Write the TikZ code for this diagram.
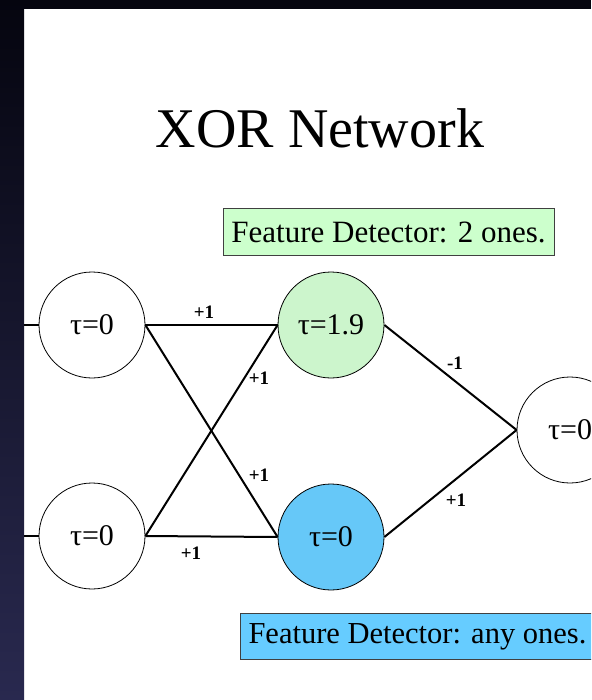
\documentclass[tikz,border=0pt]{standalone}
\usepackage{fontspec}
\setmainfont{Liberation Serif}
\definecolor{navytop}{HTML}{05050F}
\definecolor{navybot}{HTML}{29294F}
\definecolor{greenfill}{HTML}{CCF5CC}
\definecolor{greenbox}{HTML}{CCFFCC}
\definecolor{bluefill}{HTML}{66C8F8}
\definecolor{bluebox}{HTML}{66CCFF}
\tikzset{
  neuron/.style={circle, draw=black, line width=0.8pt, minimum size=106pt, inner sep=0pt, font=\fontsize{30}{30}\selectfont},
  wire/.style={line width=2pt, black},
  weight/.style={font=\fontsize{19}{19}\selectfont\bfseries, inner sep=0pt},
  fbox/.style={draw=black!75, line width=1pt, minimum height=46pt, inner xsep=8pt, font=\fontsize{31}{31}\selectfont}
}
\begin{document}
\begin{tikzpicture}[x=1pt,y=-1pt]
\useasboundingbox (0,0) rectangle (591,700);
\clip (0,0) rectangle (591,700);
\fill[white] (0,0) rectangle (591,700);
\fill[navytop] (0,0) rectangle (591,9);
\shade[top color=navytop, bottom color=navybot] (0,0) rectangle (24,700);

\node[font=\fontsize{56}{56}\selectfont, inner sep=0pt] (title) at (320,128) {XOR Network};

\node[neuron] (in1) at (92,325) {τ=0};
\node[neuron] (in2) at (92,536) {τ=0};
\node[neuron, fill=greenfill] (h1) at (331,325) {τ=1.9};
\node[neuron, fill=bluefill] (h2) at (331,537) {τ=0};
\node[neuron] (out) at (570,430) {τ=0};

\coordinate (s1) at (24,325);
\coordinate (s2) at (24,536);
\draw[wire, line width=1.5pt] (s1) -- (in1.west);
\draw[wire, line width=1.5pt] (s2) -- (in2.west);

\draw[wire] (in1.east) -- (h1.west);
\draw[wire] (in1.east) -- (h2.west);
\draw[wire] (in2.east) -- (h1.west);
\draw[wire] (in2.east) -- (h2.west);
\draw[wire] (h1.east) -- (out.west);
\draw[wire] (h2.east) -- (out.west);

\node[weight] (w1) at (204,312) {+1};
\node[weight] (w2) at (259,378) {+1};
\node[weight] (w3) at (259,475) {+1};
\node[weight] (w4) at (191,553) {+1};
\node[weight] (w5) at (455,363) {-1};
\node[weight] (w6) at (456,500) {+1};

\node[fbox, fill=greenbox, minimum width=331pt] (fd1) at (388.5,232) {Feature Detector: 2 ones.};
\node[fbox, fill=bluebox, anchor=west, minimum width=351pt, font=\fontsize{30.5}{30.5}\selectfont] (fd2) at (240,636.5) {Feature Detector: any ones.};
\end{tikzpicture}
\end{document}
